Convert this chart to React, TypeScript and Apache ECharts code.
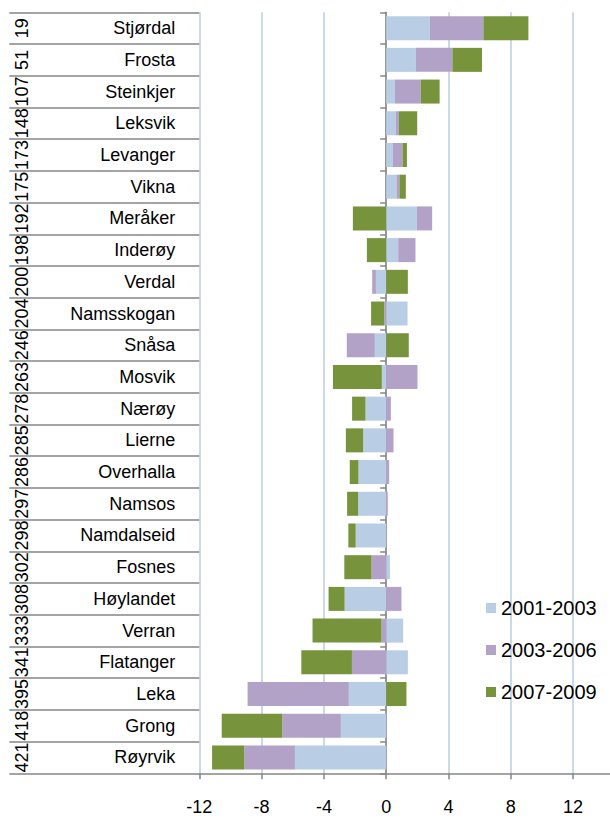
import React, { useEffect, useRef } from "react";
import * as echarts from "echarts";

const names = [
  "Stjørdal", "Frosta", "Steinkjer", "Leksvik", "Levanger", "Vikna", "Meråker", "Inderøy",
  "Verdal", "Namsskogan", "Snåsa", "Mosvik", "Nærøy", "Lierne", "Overhalla", "Namsos",
  "Namdalseid", "Fosnes", "Høylandet", "Verran", "Flatanger", "Leka", "Grong", "Røyrvik",
];
const ranks = [
  "19", "51", "107", "148", "173", "175", "192", "198", "200", "204", "246", "263",
  "278", "285", "286", "297", "298", "302", "308", "333", "341", "395", "418", "421",
];
const s2001_2003 = [
  2.8, 1.9, 0.56, 0.62, 0.43, 0.66, 1.97, 0.77, -0.66, 1.37, -0.73, -0.28,
  -1.33, -1.48, -1.78, -1.8, -1.96, 0.24, -2.67, 1.09, 1.39, -2.4, -2.91, -5.86,
];
const s2003_2006 = [
  3.44, 2.35, 1.65, 0.19, 0.62, 0.19, 0.98, 1.11, -0.24, -0.12, -1.8, 2.01,
  0.3, 0.47, 0.19, 0.1, 0.0, -0.94, 0.98, -0.3, -2.2, -6.5, -3.76, -3.25,
];
const s2007_2009 = [
  2.89, 1.9, 1.22, 1.18, 0.28, 0.41, -2.14, -1.24, 1.39, -0.85, 1.45, -3.14,
  -0.86, -1.11, -0.56, -0.71, -0.47, -1.75, -1.03, -4.43, -3.25, 1.3, -3.89, -2.07,
];
const seriesNames = ["2001-2003", "2003-2006", "2007-2009"];
const seriesData = [s2001_2003, s2003_2006, s2007_2009];
const colors = ["#B9CDE5", "#B3A2C7", "#77933C"];
const xMin = -12;
const xMax = 16;
const xInterval = 4;

const FONT = "'Liberation Sans', Arial, sans-serif";
const AXIS_GRAY = "#868686";

export default function App() {
  const ref = useRef<HTMLDivElement>(null);
  useEffect(() => {
    const chart = echarts.init(ref.current!, null, { renderer: "svg" });
    const lineStyle = { color: AXIS_GRAY, width: 1.5 };
    chart.setOption({
      animation: false,
      backgroundColor: "#ffffff",
      textStyle: { fontFamily: FONT },
      grid: {
        left: 199.3,
        right: 4.6,
        top: 12.3,
        bottom: 44.7,
        containLabel: false,
        outerBoundsMode: "none",
      },
      legend: {
        orient: "vertical",
        left: 481,
        top: 593,
        itemWidth: 10,
        itemHeight: 10,
        itemGap: 22,
        icon: "rect",
        selectedMode: false,
        data: seriesNames,
        textStyle: { fontSize: 20, lineHeight: 20, color: "#000", fontFamily: FONT },
      },
      xAxis: {
        type: "value",
        min: xMin,
        max: xMax,
        interval: xInterval,
        axisLine: { show: true, onZero: false, lineStyle },
        axisTick: { show: true, length: 6, lineStyle },
        axisLabel: {
          fontSize: 18,
          color: "#000",
          margin: 25,
          fontFamily: FONT,
          showMaxLabel: false,
        },
        splitLine: { show: true, lineStyle: { color: "#B9CDE5", width: 1.5 } },
      },
      yAxis: [
        {
          type: "category",
          data: names,
          inverse: true,
          position: "left",
          axisLine: { show: true, onZero: true, lineStyle },
          axisTick: { show: true, length: 6, lineStyle },
          axisLabel: { show: false },
          splitLine: { show: false },
        },
        {
          type: "category",
          data: names,
          inverse: true,
          position: "left",
          axisLine: { show: false, onZero: false },
          axisTick: { show: true, length: 190, lineStyle },
          axisLabel: {
            show: true,
            interval: 0,
            fontSize: 18,
            margin: 24,
            color: "#000",
            fontFamily: FONT,
          },
          splitLine: { show: false },
        },
        {
          type: "category",
          data: ranks,
          inverse: true,
          position: "left",
          axisLine: { show: false, onZero: false },
          axisTick: { show: false },
          axisLabel: {
            show: true,
            interval: 0,
            rotate: 90,
            fontSize: 18,
            margin: 168,
            color: "#000",
            fontFamily: FONT,
          },
          splitLine: { show: false },
        },
      ],
      series: seriesNames.map((n, i) => ({
        name: n,
        type: "bar",
        stack: "total",
        yAxisIndex: 0,
        barWidth: 24,
        data: seriesData[i],
        itemStyle: { color: colors[i] },
        emphasis: { disabled: true },
      })),
    });
    return () => chart.dispose();
  }, []);
  return (
    <div
      style={{
        position: "absolute",
        left: 0,
        top: 0,
        width: 610,
        height: 818,
        overflow: "hidden",
        background: "#fff",
      }}
    >
      <div ref={ref} style={{ width: 640, height: 818 }} />
    </div>
  );
}
